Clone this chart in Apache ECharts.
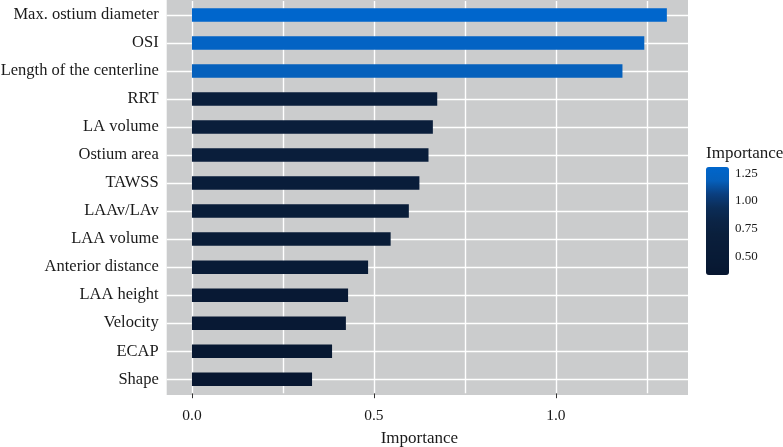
<!DOCTYPE html>
<html>
<head>
<meta charset="utf-8">
<script src="https://cdn.jsdelivr.net/npm/echarts@6/dist/echarts.min.js"></script>
<style>
html,body{margin:0;padding:0;background:#fff;}
#chart{width:783px;height:447px;}
</style>
</head>
<body>
<div id="chart"></div>
<script>
const categories = ['Max. ostium diameter','OSI','Length of the centerline','RRT','LA volume','Ostium area','TAWSS','LAAv/LAv','LAA volume','Anterior distance','LAA height','Velocity','ECAP','Shape'];
const importance = [1.305,1.243,1.183,0.674,0.662,0.650,0.625,0.596,0.546,0.484,0.429,0.423,0.385,0.330];
const xTickValues = [0, 0.5, 1.0];
const xGridValues = [0, 0.25, 0.5, 0.75, 1.0, 1.25];
const legendTickValues = [0.5, 0.75, 1.0, 1.25];
const colorStops = ['#071630','#081a35','#091c38','#0a1f3c','#0b2446','#0b2d58','#0a3f80','#0560bc','#0066cc'];

const FONT = 'Liberation Serif';
const TXT = '#1a1a1a';
const cMin = Math.min(...importance), cMax = Math.max(...importance);

const chart = echarts.init(document.getElementById('chart'));
const gridL = 166.7, gridR = 783 - 688;
const xMin = -0.0694, xMax = 1.3631;

chart.setOption({
  animation: false,
  backgroundColor: '#ffffff',
  graphic: [{
    type: 'rect', z: 0, silent: true,
    shape: {x: gridL, y: -3, width: 688 - gridL, height: 398},
    style: {fill: '#cbcccd'}
  }],
  title: {
    text: 'Importance', left: 706, top: 145, padding: 0,
    textStyle: {fontFamily: FONT, fontSize: 17, fontWeight: 'normal', color: TXT}
  },
  grid: [
    {left: gridL, right: gridR, top: 1, height: 392.2, containLabel: false, outerBoundsMode: 'none'},
    {left: 706, width: 23, top: 167, height: 108, containLabel: false, outerBoundsMode: 'none'}
  ],
  xAxis: [{
    type: 'value', gridIndex: 0, min: xMin, max: xMax,
    axisLine: {show: false},
    splitLine: {show: false},
    axisTick: {show: true, customValues: xTickValues, length: 5, lineStyle: {color: '#333', width: 1}},
    axisLabel: {customValues: xTickValues, formatter: v => v.toFixed(1), margin: 15,
      fontFamily: FONT, fontSize: 15.5, color: TXT},
    name: 'Importance', nameLocation: 'middle', nameGap: 37,
    nameTextStyle: {fontFamily: FONT, fontSize: 17, color: TXT, padding: [0, 16, 0, 0]}
  }, {
    type: 'value', gridIndex: 1, show: false, min: 0, max: 1
  }],
  yAxis: [{
    type: 'category', gridIndex: 0, data: categories, inverse: true,
    axisLine: {show: false}, axisTick: {show: false}, splitLine: {show: false},
    axisLabel: {margin: 8, fontFamily: FONT, fontSize: 16.5, color: TXT}
  }, {
    type: 'value', gridIndex: 1, position: 'right', min: cMin, max: cMax,
    axisLine: {show: false}, splitLine: {show: false},
    axisTick: {show: true, inside: true, customValues: legendTickValues, length: 4, lineStyle: {color: '#ffffff', width: 1}},
    axisLabel: {customValues: legendTickValues, formatter: v => v.toFixed(2), margin: 6,
      fontFamily: FONT, fontSize: 13, color: TXT}
  }, {
    type: 'value', gridIndex: 1, position: 'left', min: cMin, max: cMax,
    axisLine: {show: false}, splitLine: {show: false},
    axisTick: {show: true, inside: true, customValues: legendTickValues, length: 4, lineStyle: {color: '#ffffff', width: 1}},
    axisLabel: {show: false}
  }],
  visualMap: {
    type: 'continuous', seriesIndex: 0, dimension: 0,
    min: cMin, max: cMax, orient: 'vertical',
    left: 706, top: 167, padding: 0, itemWidth: 23, itemHeight: 108,
    calculable: false, hoverLink: false, text: null,
    inRange: {color: colorStops}
  },
  series: [{
    type: 'bar', xAxisIndex: 0, yAxisIndex: 0, z: 4,
    barWidth: 13.5,
    data: categories.map((c, i) => [importance[i], c]),
    encode: {x: 0, y: 1}
  }, {
    type: 'line', xAxisIndex: 0, yAxisIndex: 0, z: 1, data: [],
    markLine: {
      z: 1, silent: true, symbol: 'none', animation: false,
      label: {show: false},
      lineStyle: {color: '#ffffff', width: 1.4, type: 'solid'},
      data: xGridValues.map(v => ({xAxis: v})).concat(categories.map(c => ({yAxis: c})))
    }
  }]
});
</script>
</body>
</html>
